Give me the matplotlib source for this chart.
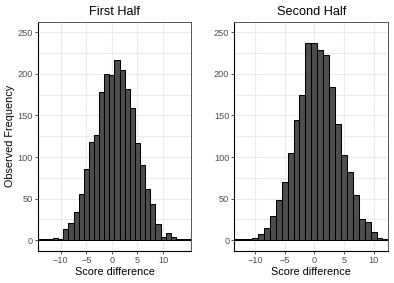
import matplotlib
matplotlib.use("Agg")
import matplotlib.pyplot as plt
import numpy as np

# score difference bins (integer centres) and observed counts
first_bins = list(range(-14, 16))
first_counts = [1, 1, 2, 3, 2, 14, 21, 34, 56, 86, 118, 127, 178, 200, 199,
                216, 204, 182, 159, 117, 90, 62, 44, 20, 4, 9, 4, 2, 2, 1]

second_bins = list(range(-13, 13))
second_counts = [1, 1, 2, 3, 8, 15, 29, 48, 70, 105, 145, 175, 237, 237,
                 228, 222, 184, 140, 102, 82, 54, 26, 22, 10, 3, 1]

panel_titles = ["First Half", "Second Half"]
x_ticks = [-10, -5, 0, 5, 10]
y_ticks = [0, 50, 100, 150, 200, 250]

plt.rcParams["font.family"] = ["Liberation Sans", "DejaVu Sans"]

fig = plt.figure(figsize=(3.94, 2.83), dpi=100)
ax1 = fig.add_axes([37.7 / 394, 1 - 250.7 / 283, 153.5 / 394, 229 / 283])
ax2 = fig.add_axes([234.2 / 394, 1 - 250.7 / 283, 154.2 / 394, 229 / 283])

panels = [(ax1, first_bins, first_counts), (ax2, second_bins, second_counts)]
for i, (ax, bins, counts) in enumerate(panels):
    ax.bar(bins, counts, width=1.0, color="#4d4d4d", edgecolor="black",
           linewidth=0.75, zorder=2)
    ax.set_xlim(bins[0] - 0.5, bins[-1] + 0.5)
    ax.set_ylim(-12.5, 262.5)
    ax.set_xticks(x_ticks)
    ax.set_yticks(y_ticks)
    ax.set_yticks(np.arange(25, 250, 50), minor=True)
    ax.grid(True, which="both", axis="y", color="#ebebeb", linewidth=0.8, zorder=0)
    ax.grid(True, which="major", axis="x", color="#ebebeb", linewidth=0.8, zorder=0)
    ax.tick_params(axis="both", which="major", labelsize=6.6, labelcolor="#4d4d4d",
                   color="#333333", length=2, width=0.6, pad=1.5)
    ax.tick_params(axis="y", which="minor", length=0)
    for side in ["top", "right"]:
        ax.spines[side].set_color("#555555")
        ax.spines[side].set_linewidth(0.7)
    for side in ["left", "bottom"]:
        ax.spines[side].set_color("black")
        ax.spines[side].set_linewidth(0.8)
    ax.set_title(panel_titles[i], fontsize=9.2, pad=5)
    ax.set_xlabel("Score difference", fontsize=7.8, labelpad=1.5)

ax1.set_ylabel("Observed Frequency", fontsize=7.8, labelpad=2)

fig.savefig("out.png", dpi=100)
